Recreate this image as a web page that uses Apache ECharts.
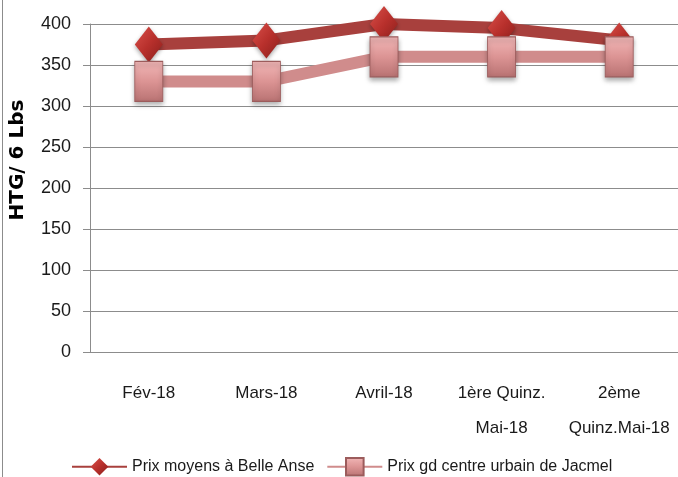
<!DOCTYPE html>
<html>
<head>
<meta charset="utf-8">
<script src="https://cdn.jsdelivr.net/npm/echarts@6/dist/echarts.min.js"></script>
<style>
    html, body { margin: 0; padding: 0; background: #fff; }
    #chart { width: 678px; height: 477px; }
</style>
</head>
<body>
<div id="chart"></div>
<script>
var months = ['Fév-18', 'Mars-18', 'Avril-18', '1ère Quinz.\nMai-18', '2ème\nQuinz.Mai-18'];
var belleAnse = [375, 380, 400, 395, 380];
var jacmel = [330, 330, 360, 360, 360];
var yTicks = { min: 0, max: 400, step: 50 };

var font = '"Liberation Sans", Arial, sans-serif';

var chart = echarts.init(document.getElementById('chart'));

var option = {
    animation: false,
    grid: {
        left: 89,
        top: 24,
        width: 591,
        bottom: 125
    },
    legend: {
        left: 66,
        top: 452,
        width: 640,
        itemWidth: 55,
        itemHeight: 22,
        itemGap: 12,
        textStyle: { fontFamily: font, fontSize: 16, color: '#1a1a1a' },
        data: ['Prix moyens à Belle Anse', 'Prix gd centre urbain de Jacmel']
    },
    xAxis: {
        type: 'category',
        data: months,
        boundaryGap: true,
        axisLine: { lineStyle: { color: '#8c8c8c' } },
        axisTick: { length: 7, lineStyle: { color: '#8c8c8c' } },
        axisLabel: {
            fontFamily: font,
            fontSize: 17,
            color: '#1a1a1a',
            lineHeight: 35,
            margin: 24,
            interval: 0
        }
    },
    yAxis: {
        type: 'value',
        min: yTicks.min,
        max: yTicks.max,
        interval: yTicks.step,
        name: 'HTG/ 6 Lbs',
        nameLocation: 'middle',
        nameGap: 62,
        nameTextStyle: {
            fontFamily: '"DejaVu Sans", sans-serif',
            fontWeight: 'bold',
            fontSize: 20,
            color: '#000',
            padding: [0, 0, 0, 56]
        },
        axisLine: { show: true, lineStyle: { color: '#8c8c8c' } },
        axisTick: { show: true, length: 7, lineStyle: { color: '#8c8c8c' } },
        axisLabel: { fontFamily: font, fontSize: 18, color: '#1a1a1a', margin: 19 },
        splitLine: { lineStyle: { color: '#8c8c8c', width: 1 } }
    },
    graphic: [{
        type: 'line',
        shape: { x1: 2.5, y1: 0, x2: 2.5, y2: 477 },
        style: { stroke: '#8c8c8c', lineWidth: 1 }
    }],
    series: [
        {
            name: 'Prix moyens à Belle Anse',
            type: 'line',
            data: belleAnse,
            symbol: 'diamond',
            symbolSize: [28, 36],
            lineStyle: { color: '#a8403d', width: 12 },
            itemStyle: {
                color: new echarts.graphic.LinearGradient(0, 0, 1, 1, [
                    { offset: 0, color: '#d9504a' },
                    { offset: 0.5, color: '#b8302c' },
                    { offset: 1, color: '#8a1f1c' }
                ]),
                shadowBlur: 4,
                shadowColor: 'rgba(0,0,0,0.35)',
                shadowOffsetY: 2
            },
            z: 2
        },
        {
            name: 'Prix gd centre urbain de Jacmel',
            type: 'line',
            data: jacmel,
            symbol: 'rect',
            symbolSize: [28, 40],
            lineStyle: { color: '#d08c8c', width: 12 },
            itemStyle: {
                color: new echarts.graphic.LinearGradient(0, 0, 0, 1, [
                    { offset: 0, color: '#f2b8b8' },
                    { offset: 0.5, color: '#dc9494' },
                    { offset: 1, color: '#b87272' }
                ]),
                borderColor: '#9c5c5c',
                borderWidth: 1,
                shadowBlur: 5,
                shadowColor: 'rgba(0,0,0,0.35)',
                shadowOffsetY: 3
            },
            z: 3
        }
    ]
};

chart.setOption(option);
</script>
</body>
</html>
